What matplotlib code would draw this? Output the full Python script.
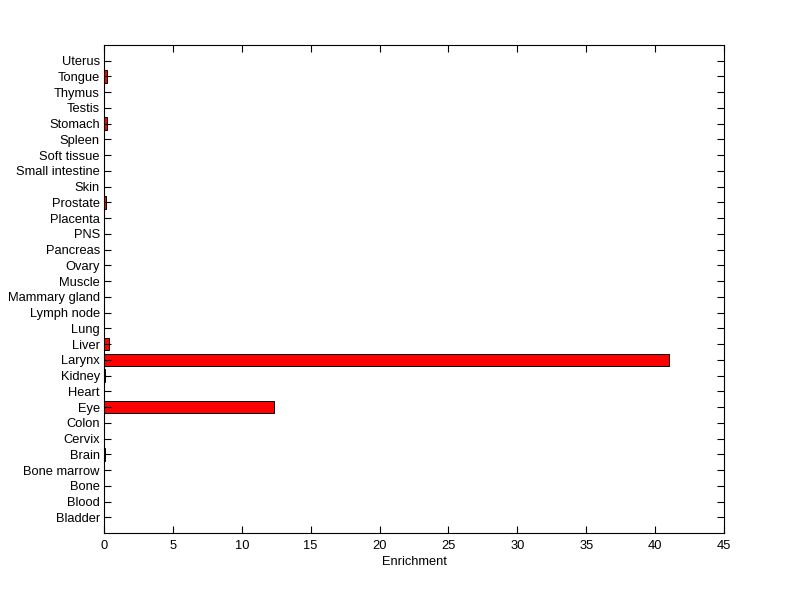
import matplotlib
matplotlib.use('Agg')
import matplotlib.pyplot as plt
import numpy as np

tissues = ['Bladder', 'Blood', 'Bone', 'Bone marrow', 'Brain', 'Cervix', 'Colon', 'Eye',
           'Heart', 'Kidney', 'Larynx', 'Liver', 'Lung', 'Lymph node', 'Mammary gland',
           'Muscle', 'Ovary', 'Pancreas', 'PNS', 'Placenta', 'Prostate', 'Skin',
           'Small intestine', 'Soft tissue', 'Spleen', 'Stomach', 'Testis', 'Thymus',
           'Tongue', 'Uterus']
enrichment = [0, 0, 0, 0, 0.1, 0, 0, 12.35,
              0, 0.1, 41.0, 0.33, 0, 0, 0,
              0, 0, 0, 0, 0, 0.15, 0,
              0, 0, 0, 0.25, 0, 0,
              0.25, 0]

plt.rcParams['font.family'] = ['Liberation Sans', 'DejaVu Sans']
plt.rcParams['font.size'] = 9.3

fig = plt.figure(figsize=(8, 5.99), dpi=100)
ax = fig.add_axes([0.13, 0.110, 0.775, 0.815])

y = np.arange(len(tissues))
ax.barh(y, enrichment, height=0.8, color='red', edgecolor='black', linewidth=0.7)

ax.set_xlim(0, 45)
ax.set_ylim(-1, len(tissues))
ax.set_xticks(np.arange(0, 46, 5))
ax.set_yticks(y)
ax.set_yticklabels(tissues)
ax.set_xlabel('Enrichment', labelpad=3)
ax.tick_params(direction='in', top=True, right=True, length=5, width=0.8, pad=3)
ax.tick_params(axis='x', pad=5)
for s in ax.spines.values():
    s.set_linewidth(0.8)

fig.savefig('out.png', dpi=100)
